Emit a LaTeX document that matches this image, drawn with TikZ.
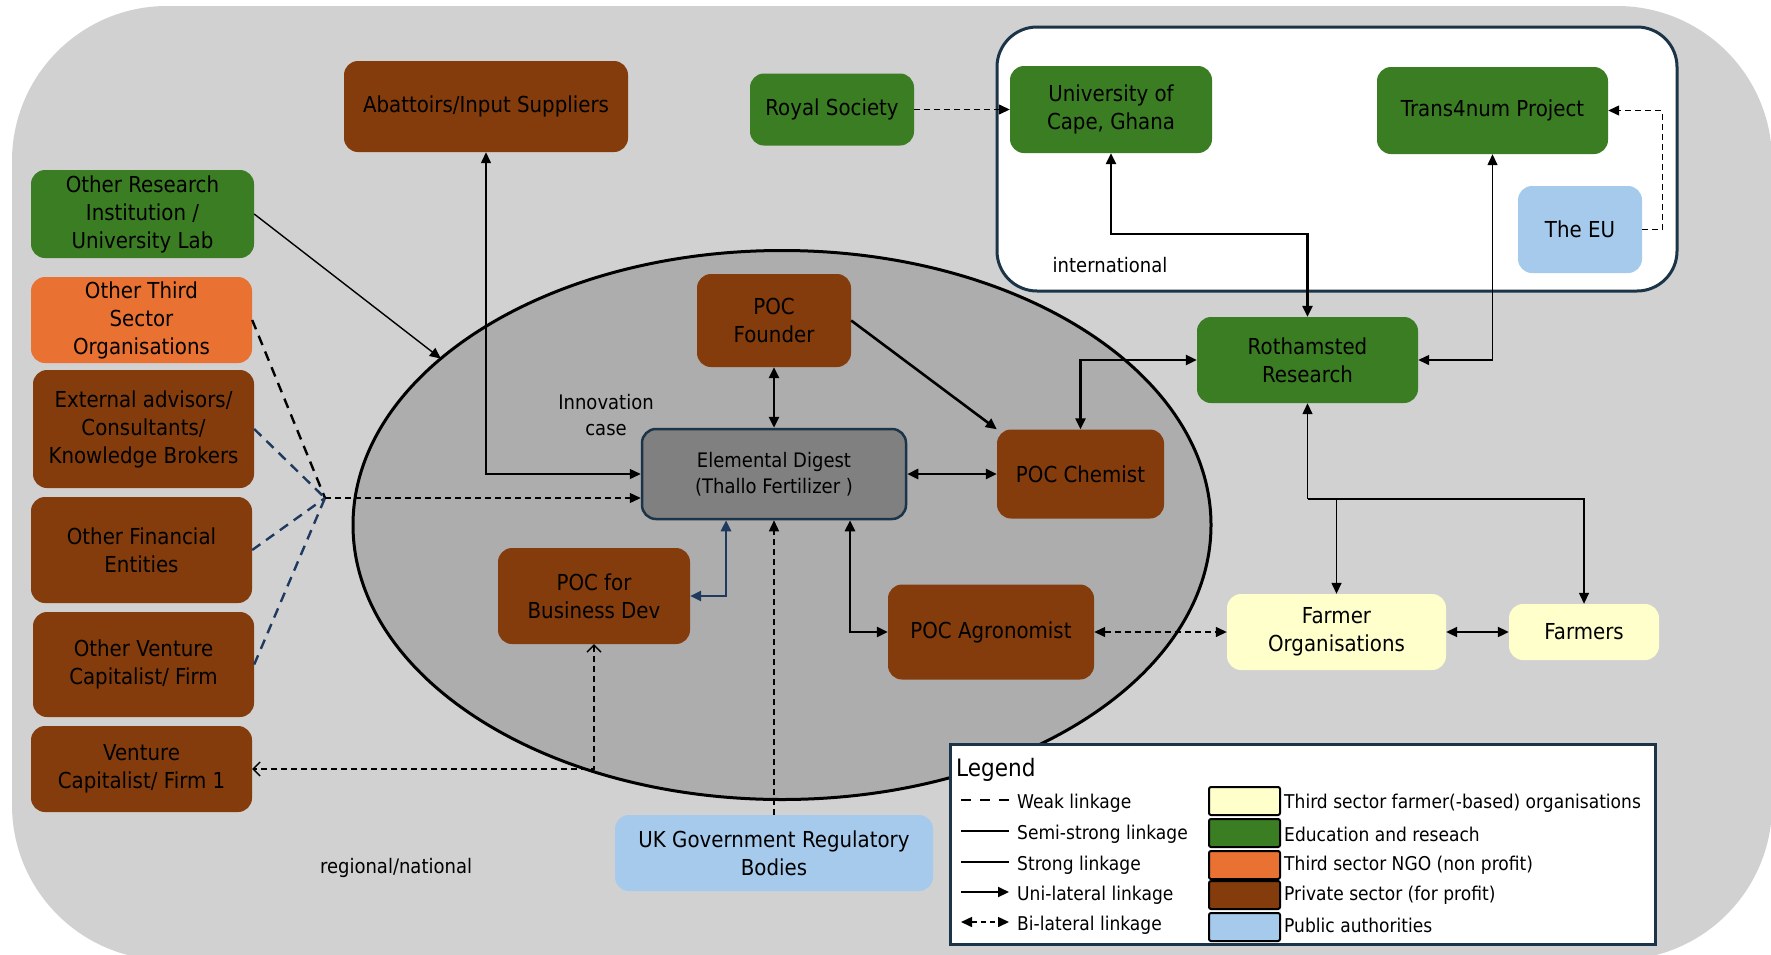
\documentclass[tikz,border=0pt]{standalone}
\usepackage{fontspec}
\setmainfont{DejaVu Sans}[FakeStretch=0.9]
\usetikzlibrary{arrows.meta,shapes.geometric}
\definecolor{privbrown}{HTML}{843C0C}
\definecolor{edugreen}{HTML}{3B7D23}
\definecolor{ngoorange}{HTML}{E97132}
\definecolor{farmyellow}{HTML}{FFFFCC}
\definecolor{publicblue}{HTML}{A6CAEC}
\definecolor{bggray}{HTML}{D1D1D1}
\definecolor{casegray}{HTML}{ADADAD}
\definecolor{digestgray}{HTML}{808080}
\definecolor{darkline}{HTML}{1B3447}
\definecolor{linkblue}{HTML}{1F3A5F}
\newcommand{\boxfont}{\fontsize{22}{28}\selectfont}
\newcommand{\labfont}{\fontsize{20}{26}\selectfont}
\newcommand{\legfont}{\fontsize{19}{22}\selectfont}
\tikzstyle{box} = [rounded corners=14pt, align=center, inner sep=2pt, font=\boxfont]
\tikzstyle{priv} = [box, fill=privbrown]
\tikzstyle{edu} = [box, fill=edugreen]
\tikzstyle{ngo} = [box, fill=ngoorange]
\tikzstyle{farm} = [box, fill=farmyellow]
\tikzstyle{pub} = [box, fill=publicblue]
\tikzstyle{lab} = [align=center, font=\labfont]
\tikzstyle{legtext} = [anchor=west, font=\legfont, inner sep=0pt]
\tikzstyle{swatch} = [draw=black, line width=2pt, rounded corners=2pt, minimum width=71pt, minimum height=28pt, inner sep=0pt]
\tikzstyle{semi} = [line width=1.4pt]
\tikzstyle{strong} = [line width=2.6pt]
\tikzstyle{weak} = [line width=1.3pt, dash pattern=on 6pt off 4pt]
\tikzstyle{weakwide} = [line width=2.4pt, dash pattern=on 10pt off 7pt]
\tikzstyle{barbs} = [{Straight Barb[length=7pt,width=14pt]}-{Straight Barb[length=7pt,width=14pt]}]

\begin{document}
\begin{tikzpicture}[x=1pt,y=-1pt,>={Triangle[length=11pt,width=10pt]}]
    \useasboundingbox (0,0) rectangle (1771,954);
    \fill[white] (0,0) rectangle (1771,954);
    \fill[bggray, rounded corners=155pt] (12,6) rectangle (1772,960);
    \node[ellipse, draw, line width=3pt, fill=casegray, minimum width=858pt, minimum height=549pt, inner sep=0pt, outer sep=0pt](case) at (782,525){};
    \node[draw=darkline, line width=3pt, fill=white, rounded corners=40pt, minimum width=680pt, minimum height=264pt](intl) at (1337,159){};
    \node[lab](caselab) at (606,415){Innovation\\case};
    \node[lab](intllab) at (1110,265){international};
    \node[lab](reglab) at (396,868){regional/national};

    \node[edu, minimum width=223pt, minimum height=88pt](ori) at (142.5,214){Other Research\\Institution /\\University Lab};
    \node[ngo, minimum width=221pt, minimum height=86pt](ots) at (141.5,320){Other Third\\Sector\\Organisations};
    \node[priv, minimum width=221pt, minimum height=118pt](ext) at (143.5,429){External advisors/\\Consultants/\\Knowledge Brokers};
    \node[priv, minimum width=221pt, minimum height=106pt](ofe) at (141.5,550){Other Financial\\Entities};
    \node[priv, minimum width=221pt, minimum height=105pt](ovc) at (143.5,664.5){Other Venture\\Capitalist/ Firm};
    \node[priv, minimum width=221pt, minimum height=86pt](vc1) at (141.5,769){Venture\\Capitalist/ Firm 1};

    \node[priv, minimum width=284pt, minimum height=91pt](abt) at (486,106.5){Abattoirs/Input Suppliers};
    \node[edu, minimum width=164pt, minimum height=72pt](rs) at (832,109.5){Royal Society};
    \node[edu, minimum width=202pt, minimum height=87pt](univ) at (1111,109.5){University of\\Cape, Ghana};
    \node[edu, minimum width=231pt, minimum height=87pt](t4n) at (1492.5,110.5){Trans4num Project};
    \node[pub, minimum width=124pt, minimum height=87pt](eu) at (1580,229.5){The EU};
    \node[edu, minimum width=221pt, minimum height=86pt](roth) at (1307.5,360){Rothamsted\\Research};

    \node[priv, minimum width=154pt, minimum height=93pt](fdr) at (774,320.5){POC\\Founder};
    \node[box, fill=digestgray, draw=darkline, line width=2.5pt, minimum width=264pt, minimum height=90pt, font=\labfont](ed) at (774,474){Elemental Digest\\(Thallo Fertilizer )};
    \node[priv, minimum width=167pt, minimum height=89pt](chem) at (1080.5,474){POC Chemist};
    \node[priv, minimum width=192pt, minimum height=96pt](bd) at (594,596){POC for\\Business Dev};
    \node[priv, minimum width=206pt, minimum height=95pt](agr) at (991,632){POC Agronomist};
    \node[pub, minimum width=318pt, minimum height=76pt](uk) at (774,853){UK Government Regulatory\\Bodies};
    \node[farm, minimum width=219pt, minimum height=76pt](fo) at (1336.5,632){Farmer\\Organisations};
    \node[farm, minimum width=150pt, minimum height=56pt](fmr) at (1584,632){Farmers};

    \coordinate (hub) at (325,498);
    \coordinate (bend) at (1307.5,234);
    \coordinate (split) at (1307.5,499);

    \draw[semi,->](ori.east)--(case.154);
    \draw[semi,<->](abt.south)|-(ed.west);
    \draw[weakwide](ots.east)--(hub);
    \draw[weakwide,linkblue](ext.east)--(hub);
    \draw[weakwide,linkblue](ofe.east)--(hub);
    \draw[weakwide,linkblue](ovc.east)--(hub);
    \draw[weak,->](hub)--([yshift=-24pt]ed.west);
    \draw[strong,<->](fdr.south)--(ed.north);
    \draw[strong,->](fdr.east)--(chem.north west);
    \draw[strong,<->](ed.east)--(chem.west);
    \draw[strong,<->](chem.north)|-(roth.west);
    \draw[strong,linkblue,<->]([xshift=-48pt]ed.south)|-(bd.east);
    \draw[strong,<->]([xshift=76pt]ed.south)|-(agr.west);
    \draw[weak,->](uk.north)--(ed.south);
    \draw[weak,barbs](bd.south)|-(vc1.east);
    \draw[weak,<->](agr.east)--(fo.west);
    \draw[line width=2pt,<->](fo.east)--(fmr.west);
    \draw[semi,<-](roth.south)--(split);
    \draw[semi,->](split)-|(fmr.north);
    \draw[semi,->](split -| fo.north)--(fo.north);
    \draw[strong,<->](univ.south)|-(bend)--(roth.north);
    \draw[semi,<->](t4n.south)|-(roth.east);
    \draw[weak,->](eu.east)--++(20,0)|-(t4n.east);
    \draw[weak,->](rs.east)--(univ.west);

    \node[draw=darkline, line width=3pt, fill=white, minimum width=705pt, minimum height=200pt](leg) at (1302.5,844){};
    \node[anchor=west, inner sep=0pt, font=\fontsize{24}{28}\selectfont](legtitle) at (956,770){Legend};
    \node[legtext](lw) at (1017,803){Weak linkage};
    \node[legtext](ls) at (1017,834){Semi-strong linkage};
    \node[legtext](lst) at (1017,865){Strong linkage};
    \node[legtext](lu) at (1017,895){Uni-lateral linkage};
    \node[legtext](lb) at (1017,925){Bi-lateral linkage};
    \draw[line width=2pt, dash pattern=on 10pt off 9pt]([xshift=-56pt,yshift=3pt]lw.west)--++(48,0);
    \draw[line width=2pt]([xshift=-56pt,yshift=3pt]ls.west)--++(48,0);
    \draw[line width=2.4pt]([xshift=-56pt,yshift=3pt]lst.west)--++(48,0);
    \draw[line width=2pt,->]([xshift=-56pt,yshift=3pt]lu.west)--++(48,0);
    \draw[line width=1.5pt, dash pattern=on 5pt off 4pt,<->]([xshift=-56pt,yshift=3pt]lb.west)--++(48,0);
    \node[swatch, fill=farmyellow](sw1) at (1244.5,801){};
    \node[swatch, fill=edugreen](sw2) at (1244.5,833){};
    \node[swatch, fill=ngoorange](sw3) at (1244.5,865){};
    \node[swatch, fill=privbrown](sw4) at (1244.5,895){};
    \node[swatch, fill=publicblue](sw5) at (1244.5,927){};
    \node[legtext](lt1) at (1284,803){Third sector farmer(-based) organisations};
    \node[legtext](lt2) at (1284,834){Education and reseach};
    \node[legtext](lt3) at (1284,865){Third sector NGO (non profit)};
    \node[legtext](lt4) at (1284,895){Private sector (for profit)};
    \node[legtext](lt5) at (1284,925){Public authorities};
  \end{tikzpicture}
\end{document}
